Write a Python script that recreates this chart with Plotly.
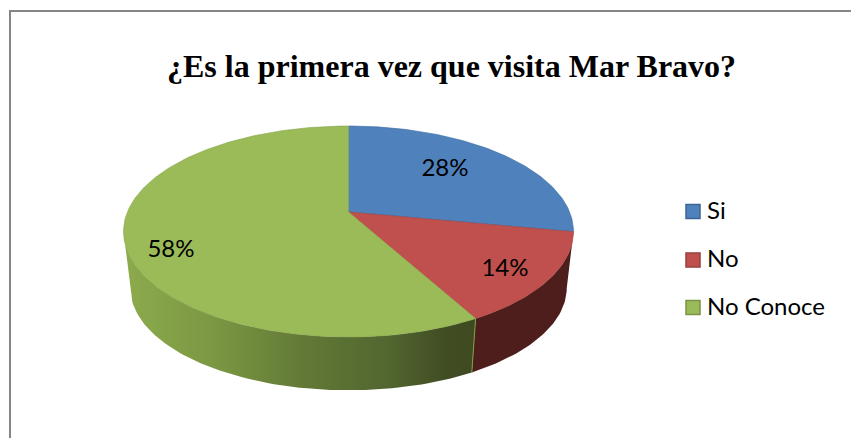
"""¿Es la primera vez que visita Mar Bravo? - tilted 3D style pie."""

import numpy as np
import plotly.graph_objects as go

CATEGORIES = ["Si", "No", "No Conoce"]
VALUES = [28, 14, 58]
COLORS = ["#4f81bd", "#c0504d", "#9bbb59"]
EDGES = ["#3a6aa3", "#a5403d", "#87a64a"]
SWATCH_EDGES = ["#3c6595", "#963f3c", "#7a9446"]
TITLE = "¿Es la primera vez que visita Mar Bravo?"

WIDTH, HEIGHT = 851, 438
CX, CY = 348.5, 212  # projected pie centre
A, B, K = 221.1, 101.9, 0.185  # projected circle
DROP, SHRINK = 57, 0.97  # lower rim of the side wall


def rim(theta, lower=False):
    # theta runs clockwise from 12 o'clock, far side of the disc gets compressed
    u, v = np.sin(theta), np.cos(theta)
    w = 1 + K * v
    x, y = A * u / w, -B * v / w
    if lower:
        return CX + x * SHRINK, CY + y * SHRINK + DROP
    return CX + x, CY + y


def arc(start, stop, lower=False):
    n = max(int(abs(stop - start) * 60), 2)
    return rim(np.linspace(start, stop, n), lower)


fractions = np.cumsum([0] + VALUES) / sum(VALUES) * 2 * np.pi
left_end = 2 * np.pi - np.arccos(-K)  # widest point of the disc on the left

fig = go.Figure()

# side walls first, the top faces paint over the hidden part
x1, y1 = arc(fractions[1], fractions[2])
x2, y2 = arc(fractions[2], fractions[1], lower=True)
fig.add_trace(go.Scatter(
    x=np.r_[x1, x2], y=np.r_[y1, y2], mode="lines", fill="toself",
    fillcolor="#4d1e1c", line=dict(width=0), hoverinfo="skip", showlegend=False,
))

x1, y1 = arc(fractions[2], left_end)
x2, y2 = arc(left_end, fractions[2], lower=True)
fig.add_trace(go.Scatter(
    x=np.r_[x1, x2], y=np.r_[y1, y2], mode="lines", fill="toself",
    fillgradient=dict(
        type="horizontal", start=124, stop=476,
        colorscale=[[0, "#8cab4c"], [0.25, "#7c9843"], [0.5, "#637a36"],
                    [0.75, "#526630"], [0.92, "#404c22"], [1, "#3f4a21"]],
    ),
    line=dict(width=0), hoverinfo="skip", showlegend=False,
))

# light seam where the green wall meets the red one
sx, sy = rim(fractions[2])
lx, ly = rim(fractions[2], lower=True)
fig.add_trace(go.Scatter(
    x=[sx, lx], y=[sy, ly], mode="lines", line=dict(color="#7f9c47", width=1),
    hoverinfo="skip", showlegend=False,
))

# top faces
for i, name in enumerate(CATEGORIES):
    x1, y1 = arc(fractions[i], fractions[i + 1])
    fig.add_trace(go.Scatter(
        x=np.r_[CX, x1, CX], y=np.r_[CY, y1, CY], mode="lines", fill="toself",
        fillcolor=COLORS[i], line=dict(color=EDGES[i], width=0.6),
        name=name, hoverinfo="name", showlegend=False,
    ))

# value labels
label_x = [445, 505, 171]
label_y = [170, 270, 251]
fig.add_trace(go.Scatter(
    x=label_x, y=label_y, mode="text", text=[f"{v}%" for v in VALUES],
    textposition="middle center", textfont=dict(family="Lato", size=24, color="black"),
    hoverinfo="skip", showlegend=False,
))

# legend
legend_y = [211.5, 260, 307.5]
fig.add_trace(go.Scatter(
    x=[693] * 3, y=legend_y, mode="markers",
    marker=dict(symbol="square", size=14, color=COLORS, line=dict(color=SWATCH_EDGES, width=1.5)),
    hoverinfo="skip", showlegend=False,
))
fig.add_trace(go.Scatter(
    x=[707] * 3, y=[v + 1 for v in legend_y], mode="text", text=CATEGORIES,
    textposition="middle right", textfont=dict(family="Lato", size=24, color="black"),
    hoverinfo="skip", showlegend=False,
))

fig.add_annotation(
    x=451.5, y=66, xref="x", yref="y", text=f"<b>{TITLE}</b>", showarrow=False,
    font=dict(family="Liberation Serif", size=32, color="black"),
)

# chart frame, only the top and left sides are in the picture
fig.add_shape(type="rect", x0=10, y0=11, x1=900, y1=500, line=dict(color="#868686", width=2))

fig.update_xaxes(range=[0, WIDTH], visible=False)
fig.update_yaxes(range=[HEIGHT, 0], visible=False)
fig.update_layout(
    width=WIDTH, height=HEIGHT, margin=dict(l=0, r=0, t=0, b=0),
    paper_bgcolor="white", plot_bgcolor="white", showlegend=False,
)
fig.write_html(
    "out.html", config=dict(displayModeBar=False),
    post_script="document.body.style.margin = '0';",
)
